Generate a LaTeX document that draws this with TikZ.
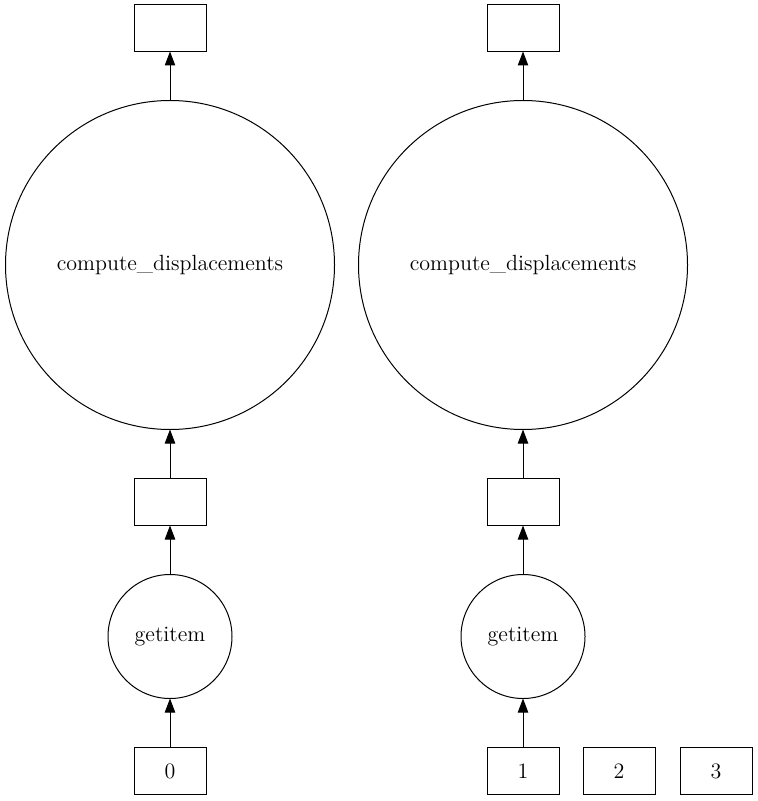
\documentclass[tikz,border=0pt]{standalone}
\usepackage{tikz}
\usetikzlibrary{shapes,arrows.meta,positioning}

\begin{document}
\begin{tikzpicture}[
    x=0.5pt, y=-0.5pt,
    node distance=24.5pt,
    task/.style={circle, draw, line width=0.5pt, inner sep=0pt, outer sep=0pt, font=\fontsize{11}{13}\selectfont},
    data/.style={rectangle, draw, line width=0.5pt, minimum width=36pt, minimum height=23.5pt, inner sep=0pt, outer sep=0pt, font=\fontsize{11}{13}\selectfont},
    arrow/.style={-{Triangle[length=7pt,width=5.2pt]}, line width=0.5pt}
]
\useasboundingbox (0,0) rectangle (757,801);
% left branch
\node[data] (in0) at (170,771) {0};
\node[task, minimum size=62pt, above=of in0] (get0) {getitem};
\node[data, above=of get0] (part0) {};
\node[task, minimum size=164.5pt, above=of part0] (disp0) {compute\_displacements};
\node[data, above=of disp0] (out0) {};
% right branch
\node[data] (in1) at (523,771) {1};
\node[task, minimum size=62pt, above=of in1] (get1) {getitem};
\node[data, above=of get1] (part1) {};
\node[task, minimum size=164.5pt, above=of part1] (disp1) {compute\_displacements};
\node[data, above=of disp1] (out1) {};
% loose inputs
\node[data, right=12pt of in1] (in2) {2};
\node[data, right=12.5pt of in2] (in3) {3};

\draw[arrow] (in0) -- (get0);
\draw[arrow] (get0) -- (part0);
\draw[arrow] (part0) -- (disp0);
\draw[arrow] (disp0) -- (out0);
\draw[arrow] (in1) -- (get1);
\draw[arrow] (get1) -- (part1);
\draw[arrow] (part1) -- (disp1);
\draw[arrow] (disp1) -- (out1);
\end{tikzpicture}
\end{document}
